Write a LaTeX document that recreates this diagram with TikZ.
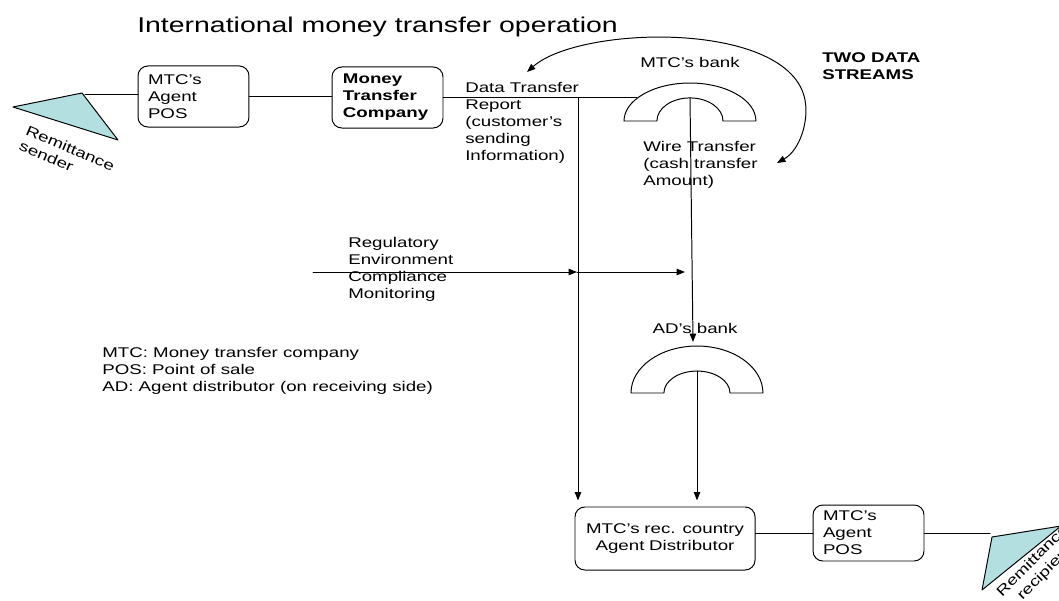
\documentclass[tikz,border=0pt]{standalone}
\usepackage{fontspec}
\setmainfont{Liberation Sans}[FakeStretch=1.33]
\usepackage{xcolor}
\usetikzlibrary{calc,arrows.meta}
\definecolor{ink}{HTML}{000000}
\definecolor{paper}{HTML}{FFFFFF}
\definecolor{triblue}{HTML}{B4DFE1}
\tikzset{
  base/.style={draw=ink, line width=0.7pt, line cap=round, line join=round},
  arr/.style={base, -{Triangle[length=6pt,width=4.6pt]}},
  arrs/.style={base, {Triangle[length=6pt,width=4.6pt]}-{Triangle[length=6pt,width=4.6pt]}},
  tri/.style={draw=ink, fill=triblue, line width=0.7pt, line join=round},
  arch/.style={draw=ink, fill=paper, line width=0.7pt},
  agbox/.style={draw=ink, line width=0.7pt, rounded corners=7pt, align=left,
    inner xsep=7.1pt, text width=64.7pt, minimum height=43.4pt, text=ink,
    font=\fontsize{10}{12}\selectfont},
  lab/.style={text=ink, inner sep=0pt, align=left, font=\fontsize{10}{12}\selectfont},
  labb/.style={lab, font=\fontsize{10}{12}\selectfont\bfseries},
  hdr/.style={text=ink, inner sep=0pt, font=\fontsize{15.2}{18}\selectfont},
}
\begin{document}
\begin{tikzpicture}[x=0.711pt, y=-0.711pt]
  \useasboundingbox (0,0) rectangle (1059,601);
  \clip (0,0) rectangle (1059,601);
  \node[hdr, anchor=base west] (ttl) at (137,33) {International money transfer operation};
  % sending side
  \draw[tri] (13,107) -- (82,93) -- (118,140) -- cycle;
  \coordinate (snd) at (85,94);
  \node[lab, rotate=-23] (sndlab) at (67,156) {Remittance\\sender};
  \node[agbox] (posA) at (193.5,96.5) {MTC's\\Agent\\POS};
  \node[agbox, inner xsep=7.8pt, text width=63.3pt,
        font=\fontsize{10}{12}\selectfont\bfseries] (mtc) at (387.5,97.5) {Money\\Transfer\\Company};
  \draw[base] (snd) -- (snd -| posA.west);
  \draw[base] (posA.east) -- (posA.east -| mtc.west);
  \coordinate (bankL) at (637,97.5);
  \draw[base] (mtc.east) -- (bankL);
  % MTC's bank
  \draw[arch] (624,121) arc[start angle=180, end angle=0, x radius=46.9pt, y radius=27pt]
    -- (723,121) arc[start angle=0, end angle=180, x radius=23.5pt, y radius=16.4pt] -- cycle;
  \node[lab] (mtcbank) at (690,62) {MTC's bank};
  \node[labb, anchor=west] (streams) at (822,66.5) {TWO DATA\\STREAMS};
  \node[lab, anchor=west] (dtrlab) at (465,123) {Data Transfer\\Report\\(customer's\\sending\\Information)};
  \node[lab, anchor=west] (wirelab) at (643,164.5) {Wire Transfer\\(cash transfer\\Amount)};
  \coordinate (dsL) at (527,72);
  \coordinate (dsR) at (777,163);
  \draw[arrs] (dsL) .. controls (580,25) and (790,20) .. (805,100)
    .. controls (809,121) and (800,150) .. (dsR);
  % receiving side
  \node[agbox, align=center, text width=114pt, inner xsep=7pt, minimum height=44.8pt]
    (agd) at (665,538.5) {MTC's rec. country\\Agent Distributor};
  \node[agbox, minimum height=39.8pt] (posB) at (868.5,533) {MTC's\\Agent\\POS};
  \coordinate (dtr) at (578,97.5);
  \draw[arr, shorten >=4.3pt] (dtr) -- (dtr |- agd.north);
  \coordinate (mtcbankT) at (690,98);
  \coordinate (wireE) at (693,342);
  \draw[arr] (mtcbankT) -- (wireE);
  % AD's bank
  \draw[arch] (631,393) arc[start angle=180, end angle=0, x radius=46.9pt, y radius=33.4pt]
    -- (730,393) arc[start angle=0, end angle=180, x radius=23.5pt, y radius=15.6pt] -- cycle;
  \node[lab] (adbank) at (695,328) {AD's bank};
  \coordinate (adbankT) at (697,371);
  \draw[arr, shorten >=4.3pt] (adbankT) -- (adbankT |- agd.north);
  \draw[base] (posB.west) -- (posB.west -| agd.east);
  \coordinate (rcp) at (990,533);
  \draw[base] (posB.east) -- (rcp);
  \draw[tri] (992,537) -- (1061,526) -- (982,590) -- cycle;
  \node[lab, align=center, rotate=45] (rcplab) at (1039,567) {Remittance\\recipient};
  % regulation
  \coordinate (regS) at (313,272);
  \coordinate (regA) at (577,272);
  \coordinate (regB) at (685,272);
  \draw[arr] (regS) -- (regA);
  \draw[arr] (regA) -- (regB);
  \node[lab, anchor=west] (reglab) at (348,269.5) {Regulatory\\Environment\\Compliance\\Monitoring};
  \node[lab, anchor=west] (legend) at (102,371) {MTC: Money transfer company\\POS: Point of sale\\AD: Agent distributor (on receiving side)};
\end{tikzpicture}
\end{document}
